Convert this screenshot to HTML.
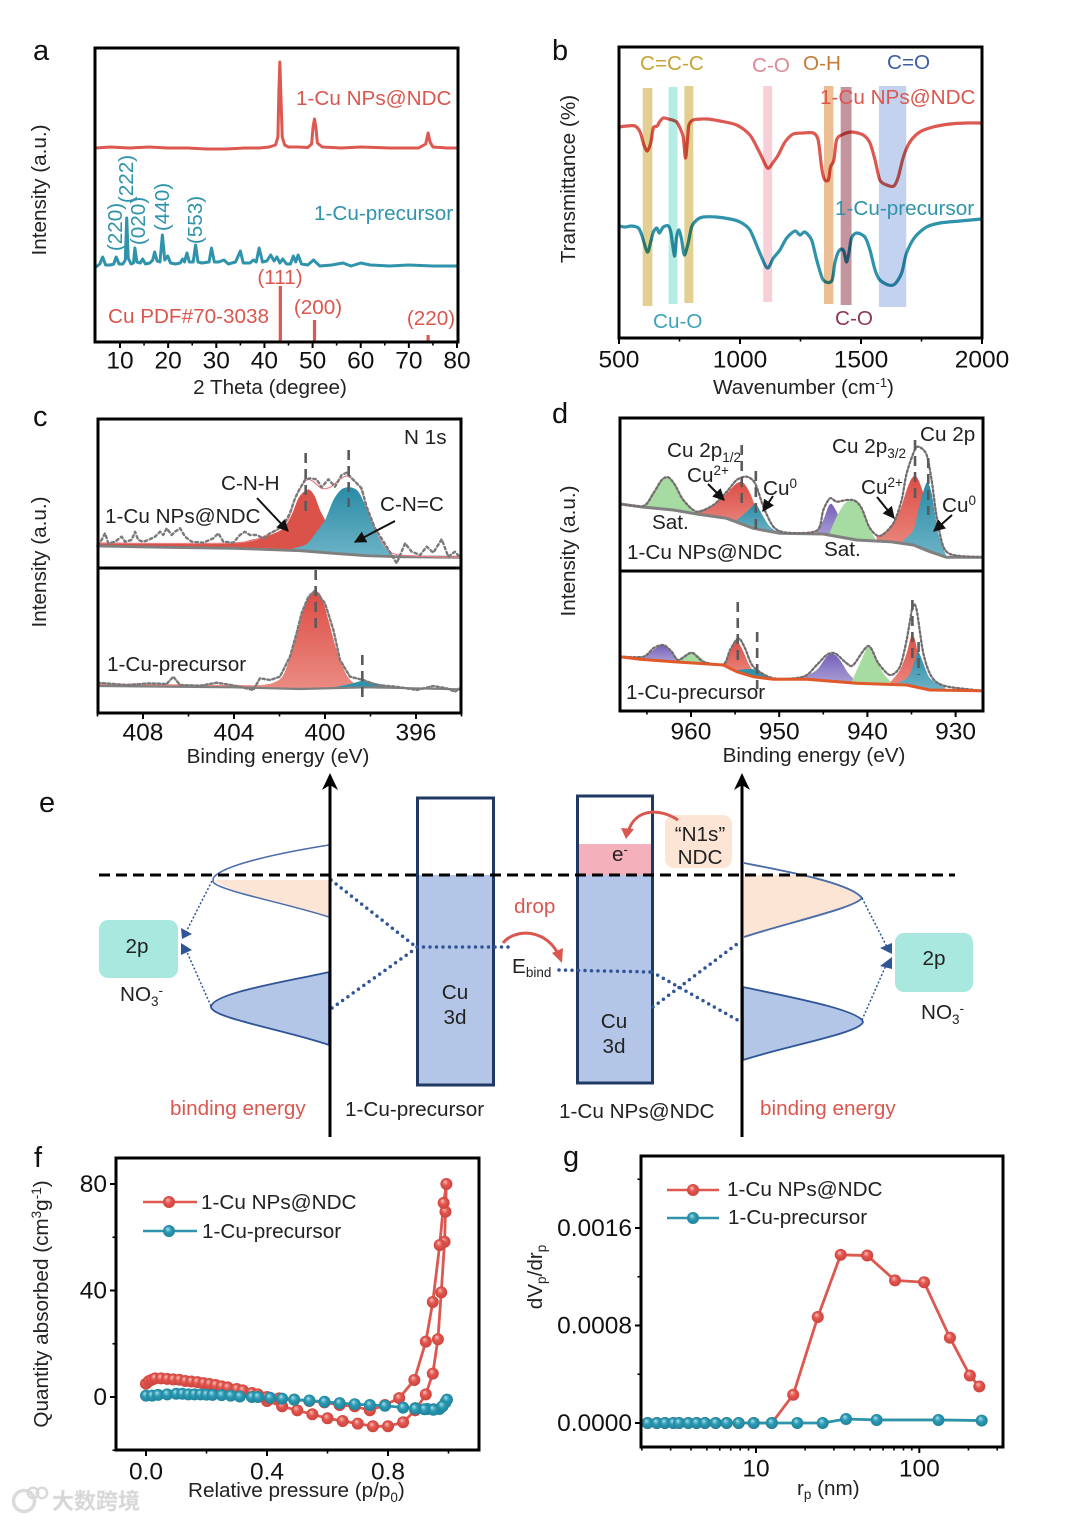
<!DOCTYPE html>
<html lang="en">
<head>
<meta charset="utf-8">
<title>Cu NPs@NDC characterization figure</title>
<style>
html,body{margin:0;padding:0;background:#fff;}
svg{display:block;filter:blur(0.3px);}
text{font-family:"Liberation Sans","Noto Sans CJK SC",sans-serif;font-size:20.7px;fill:#222;}
.tick{font-size:24.5px;fill:#111;text-anchor:middle;}
.letter{font-size:29px;fill:#111;}
.r{fill:#d9574f;}
.t{fill:#2f93ab;}
.blend{mix-blend-mode:multiply;}
</style>
</head>
<body>
<svg id="figure" xmlns="http://www.w3.org/2000/svg" width="1080" height="1520" viewBox="0 0 1080 1520">
<defs>
<linearGradient id="redFade" x1="0" y1="0" x2="0" y2="1"><stop offset="0" stop-color="#dd4d45"/><stop offset="1" stop-color="#ea8b82"/></linearGradient>
<linearGradient id="tealFade" x1="0" y1="0" x2="0" y2="1"><stop offset="0" stop-color="#2a8ca7"/><stop offset="1" stop-color="#6db3c6"/></linearGradient>
<linearGradient id="purpleFade" x1="0" y1="0" x2="0" y2="1"><stop offset="0" stop-color="#7560b8"/><stop offset="1" stop-color="#a99fd6"/></linearGradient>
<radialGradient id="ballRed" cx=".5" cy=".5" r=".55" fx=".38" fy=".3"><stop offset="0" stop-color="#f8c0b9"/><stop offset=".45" stop-color="#e2554e"/><stop offset="1" stop-color="#c9413b"/></radialGradient>
<radialGradient id="ballTeal" cx=".5" cy=".5" r=".55" fx=".38" fy=".3"><stop offset="0" stop-color="#a8e0ec"/><stop offset=".45" stop-color="#2b9ab3"/><stop offset="1" stop-color="#1e7f97"/></radialGradient>
<marker id="arrowBlack" viewBox="0 0 10 10" refX="9" refY="5" markerWidth="6" markerHeight="6" orient="auto"><path d="M0,0 L10,5 L0,10 Z" fill="#111"/></marker>
</defs>

<!-- panel a -->
<g id="a-marks"></g>
<rect x="95" y="48" width="363" height="294" fill="none" stroke="#000" stroke-width="3"/>
<g id="a-axis"></g>
<text class="letter" x="33" y="60">a</text>
<text transform="rotate(-90 46 190)" x="46" y="190" text-anchor="middle">Intensity (a.u.)</text>
<text x="270" y="394" text-anchor="middle">2 Theta (degree)</text>
<text class="r" x="296" y="105">1-Cu NPs@NDC</text>
<text class="t" x="314" y="220">1-Cu-precursor</text>
<text class="r" x="108" y="323">Cu PDF#70-3038</text>
<text class="r" x="280" y="284" text-anchor="middle">(111)</text>
<text class="r" x="318" y="314" text-anchor="middle">(200)</text>
<text class="r" x="431" y="325" text-anchor="middle">(220)</text>
<text class="t" transform="rotate(-90 122 227)" x="122" y="227" text-anchor="middle">(220)</text>
<text class="t" transform="rotate(-90 133 179)" x="133" y="179" text-anchor="middle">(222)</text>
<text class="t" transform="rotate(-90 145 221)" x="145" y="221" text-anchor="middle">(020)</text>
<text class="t" transform="rotate(-90 169 207)" x="169" y="207" text-anchor="middle">(440)</text>
<text class="t" transform="rotate(-90 202 220)" x="202" y="220" text-anchor="middle">(553)</text>

<!-- panel b -->
<g id="b-marks"></g>
<rect x="619" y="47" width="363" height="291" fill="none" stroke="#000" stroke-width="3"/>
<g id="b-axis"></g>
<text class="letter" x="552" y="60">b</text>
<text transform="rotate(-90 575 179)" x="575" y="179" text-anchor="middle">Transmittance (%)</text>
<text x="713" y="394">Wavenumber (cm<tspan dy="-7" font-size="13">-1</tspan><tspan dy="7">)</tspan></text>
<text x="640" y="70" style="fill:#c9a335">C=C-C</text>
<text x="752" y="72" style="fill:#dc8a98">C-O</text>
<text x="803" y="70" style="fill:#c67c35">O-H</text>
<text x="887" y="69" style="fill:#3f5fa5">C=O</text>
<text class="r" x="820" y="104">1-Cu NPs@NDC</text>
<text class="t" x="835" y="215">1-Cu-precursor</text>
<text x="653" y="328" style="fill:#3ea3b8">Cu-O</text>
<text x="835" y="325" style="fill:#8c3a50">C-O</text>

<!-- panel c -->
<g id="c-marks"></g>
<rect x="98" y="419" width="363" height="294" fill="none" stroke="#000" stroke-width="3"/>
<line x1="97" y1="568" x2="461" y2="568" stroke="#000" stroke-width="3"/>
<g id="c-axis"></g>
<text class="letter" x="33" y="426">c</text>
<text transform="rotate(-90 46 562)" x="46" y="562" text-anchor="middle">Intensity (a.u.)</text>
<text x="278" y="763" text-anchor="middle">Binding energy (eV)</text>
<text x="404" y="444">N 1s</text>
<text x="221" y="490">C-N-H</text>
<text x="380" y="511">C-N=C</text>
<text x="105" y="523">1-Cu NPs@NDC</text>
<text x="107" y="671">1-Cu-precursor</text>
<line x1="257" y1="498" x2="288" y2="531" stroke="#111" stroke-width="2" marker-end="url(#arrowBlack)"/>
<line x1="395" y1="521" x2="355" y2="542" stroke="#111" stroke-width="2" marker-end="url(#arrowBlack)"/>

<!-- panel d -->
<g id="d-marks"></g>
<rect x="620" y="418" width="363" height="293" fill="none" stroke="#000" stroke-width="3"/>
<line x1="619" y1="571" x2="983" y2="571" stroke="#000" stroke-width="3"/>
<g id="d-axis"></g>
<text class="letter" x="552" y="423">d</text>
<text transform="rotate(-90 575 551)" x="575" y="551" text-anchor="middle">Intensity (a.u.)</text>
<text x="814" y="762" text-anchor="middle">Binding energy (eV)</text>
<text x="667" y="457">Cu 2p<tspan dy="5" font-size="13.5">1/2</tspan></text>
<text x="687" y="482">Cu<tspan dy="-7" font-size="13.5">2+</tspan></text>
<text x="763" y="495">Cu<tspan dy="-7" font-size="13.5">0</tspan></text>
<text x="652" y="529">Sat.</text>
<text x="627" y="559">1-Cu NPs@NDC</text>
<text x="832" y="453">Cu 2p<tspan dy="5" font-size="13.5">3/2</tspan></text>
<text x="920" y="441">Cu 2p</text>
<text x="861" y="494">Cu<tspan dy="-7" font-size="13.5">2+</tspan></text>
<text x="942" y="512">Cu<tspan dy="-7" font-size="13.5">0</tspan></text>
<text x="824" y="556">Sat.</text>
<text x="626" y="699">1-Cu-precursor</text>
<line x1="708" y1="484" x2="724" y2="500" stroke="#111" stroke-width="2" marker-end="url(#arrowBlack)"/>
<line x1="773" y1="496" x2="763" y2="511" stroke="#111" stroke-width="2" marker-end="url(#arrowBlack)"/>
<line x1="877" y1="497" x2="894" y2="518" stroke="#111" stroke-width="2" marker-end="url(#arrowBlack)"/>
<line x1="952" y1="515" x2="934" y2="531" stroke="#111" stroke-width="2" marker-end="url(#arrowBlack)"/>

<!-- panel e -->
<g>
<text class="letter" x="39" y="812">e</text>
<rect x="418" y="875" width="75" height="209" fill="#b4c6e7"/>
<rect x="578" y="875" width="74" height="207" fill="#b4c6e7"/>
<rect x="578" y="844" width="74" height="31" fill="#f4b0bb"/>
<rect x="417.5" y="798" width="76" height="287" fill="none" stroke="#203864" stroke-width="3"/>
<rect x="577.5" y="796" width="75" height="287" fill="none" stroke="#203864" stroke-width="3"/>
<path d="M214,880 L329,880 L329,917 C285,903 225,892 214,880Z" fill="#fce5d5"/>
<path d="M329,845 C285,852 225,864 214,877 Q212,880 214,883 C225,892 285,903 329,917" fill="none" stroke="#4a6ca8" stroke-width="1.5"/>
<path d="M329,972 C285,982 212,993 211,1007 C212,1018 285,1030 329,1045Z" fill="#b4c6e7" stroke="#2f5597" stroke-width="1.8"/>
<path d="M744,875 L800,875 C830,880 855,888 862,898 C855,908 790,922 744,937Z" fill="#fce5d5"/>
<path d="M744,863 C790,872 850,883 862,898 C855,908 790,922 744,937" fill="none" stroke="#4a6ca8" stroke-width="1.9"/>
<path d="M743,987 C790,997 860,1010 863,1022 C860,1033 790,1045 743,1060Z" fill="#b4c6e7" stroke="#2f5597" stroke-width="1.8"/>
<g fill="none" stroke="#2f5597" stroke-width="3.5" stroke-linecap="round" stroke-dasharray="0 6.5">
<line x1="331" y1="880" x2="415" y2="946"/>
<line x1="332" y1="1008" x2="415" y2="949"/>
<line x1="417" y1="947" x2="512" y2="947"/>
<line x1="559" y1="970" x2="652" y2="972"/>
<line x1="652" y1="972" x2="741" y2="1022"/>
<line x1="653" y1="1007" x2="741" y2="941"/>
</g>
<g fill="none" stroke="#2f5597" stroke-width="1.5" stroke-dasharray="2 2">
<line x1="212" y1="881" x2="186" y2="932"/>
<line x1="211" y1="1006" x2="186" y2="950"/>
<line x1="862" y1="898" x2="887" y2="947"/>
<line x1="862" y1="1020" x2="887" y2="963"/>
</g>
<polygon points="181,928 192,934 182,939" fill="#2f5597"/>
<polygon points="181,943 192,950 181,955" fill="#2f5597"/>
<polygon points="892,943 892,954 880,948" fill="#2f5597"/>
<polygon points="892,957 892,969 880,966" fill="#2f5597"/>
<line x1="99" y1="875" x2="955" y2="875" stroke="#000" stroke-width="3" stroke-dasharray="11 6"/>
<line x1="330" y1="1137" x2="330" y2="780" stroke="#000" stroke-width="3"/>
<polygon points="330,773 338,790 330,785 322,790" fill="#000"/>
<line x1="742" y1="1137" x2="742" y2="780" stroke="#000" stroke-width="3"/>
<polygon points="742,773 750,790 742,785 734,790" fill="#000"/>
<rect x="99" y="920" width="79" height="58" rx="9" fill="#a8e8df"/>
<rect x="895" y="933" width="78" height="59" rx="9" fill="#a8e8df"/>
<rect x="665" y="815" width="67" height="53" rx="9" fill="#fce5d5"/>
<path d="M503,943 C515,928 548,928 560,958" fill="none" stroke="#d9574f" stroke-width="3"/>
<polygon points="562,963 552,953 563,948" fill="#d9574f"/>
<path d="M678,820 C660,808 635,808 628,832" fill="none" stroke="#d9574f" stroke-width="3"/>
<polygon points="626,839 621,828 634,829" fill="#d9574f"/>
<text x="137" y="953" text-anchor="middle">2p</text>
<text x="934" y="965" text-anchor="middle">2p</text>
<text x="120" y="1001">NO<tspan dy="5" font-size="13.5">3</tspan><tspan dy="-11" font-size="13.5">-</tspan></text>
<text x="921" y="1019">NO<tspan dy="5" font-size="13.5">3</tspan><tspan dy="-11" font-size="13.5">-</tspan></text>
<text x="455" y="999" text-anchor="middle">Cu</text>
<text x="455" y="1024" text-anchor="middle">3d</text>
<text x="614" y="1028" text-anchor="middle">Cu</text>
<text x="614" y="1053" text-anchor="middle">3d</text>
<text x="612" y="861">e<tspan dy="-7" font-size="13">-</tspan></text>
<text x="700" y="841" text-anchor="middle">“N1s”</text>
<text x="700" y="864" text-anchor="middle">NDC</text>
<text class="r" x="514" y="913">drop</text>
<text x="512" y="973">E<tspan dy="4" font-size="13.5">bind</tspan></text>
<text class="r" x="170" y="1115">binding energy</text>
<text class="r" x="760" y="1115">binding energy</text>
<text x="345" y="1116">1-Cu-precursor</text>
<text x="559" y="1118">1-Cu NPs@NDC</text>
</g>

<!-- panel f -->
<g id="f-marks"></g>
<rect x="116" y="1158" width="363" height="292" fill="none" stroke="#000" stroke-width="3"/>
<g id="f-axis"></g>
<text class="letter" x="34" y="1167">f</text>
<text transform="rotate(-90 48 1304)" x="48" y="1304" text-anchor="middle">Quantity absorbed (cm<tspan dy="-7" font-size="13.5">3</tspan><tspan dy="7">g</tspan><tspan dy="-7" font-size="13.5">-1</tspan><tspan dy="7">)</tspan></text>
<text x="188" y="1497">Relative pressure (p/p<tspan dy="5" font-size="13.5">0</tspan><tspan dy="-5">)</tspan></text>
<text x="201" y="1209">1-Cu NPs@NDC</text>
<text x="202" y="1238">1-Cu-precursor</text>

<!-- panel g -->
<g id="g-marks"></g>
<rect x="641" y="1156" width="362" height="291" fill="none" stroke="#000" stroke-width="3"/>
<g id="g-axis"></g>
<text class="letter" x="563" y="1166">g</text>
<text transform="rotate(-90 542 1277)" x="542" y="1277" text-anchor="middle">dV<tspan dy="4" font-size="13.5">p</tspan><tspan dy="-4">/dr</tspan><tspan dy="4" font-size="13.5">p</tspan></text>
<text x="797" y="1495">r<tspan dy="4" font-size="13.5">p</tspan><tspan dy="-4"> (nm)</tspan></text>
<text x="727" y="1196">1-Cu NPs@NDC</text>
<text x="728" y="1224">1-Cu-precursor</text>

<!-- watermark -->
<g opacity=".85">
<circle cx="24" cy="1501" r="10.5" fill="none" stroke="#d4d4d4" stroke-width="3.5"/>
<circle cx="33" cy="1493" r="5.2" fill="none" stroke="#d4d4d4" stroke-width="2.5"/>
<circle cx="42" cy="1493" r="5.2" fill="none" stroke="#d4d4d4" stroke-width="2.5"/>
<text x="52" y="1509" style="font-size:22px;font-weight:bold;fill:#cfcfcf;stroke:#e6e6e6;stroke-width:.5">大数跨境</text>
</g>

<script>
/* ---------- Panel a: XRD (2-theta in degrees, intensity in a.u.) ---------- */
const aTickMajor = [10, 20, 30, 40, 50, 60, 70, 80];
const aTickMinor = [15, 25, 35, 45, 55, 65, 75];
const aRedTrace = [[5,194],[8,195],[12,194],[16,195],[20,194],[24,194],[28,193],[32,193],[36,194],[39,194],[41,195],[42.3,197],[42.8,205],[43,250],[43.2,280],[43.4,250],[43.7,205],[44.2,197],[45,195],[47,195],[49,194.5],[49.8,198],[50.1,215],[50.4,223],[50.7,214],[51,199],[52,195],[56,194],[60,195],[66,194],[72,194],[73.5,198],[74,209],[74.4,200],[75,195],[78,194],[80,194]];
const aTealTrace = [[5,75],[5.8,78],[6.4,85],[7,77],[8,77],[8.7,78],[9.2,85],[9.8,78],[10.6,78],[11.1,82],[11.4,124],[11.7,84],[12.3,78],[12.8,79],[13.1,94],[13.5,80],[14.2,79],[14.7,83],[15.3,78],[16.2,79],[16.8,82],[17.2,90],[17.7,81],[18.3,80],[18.8,107],[19.3,82],[19.9,86],[20.5,79],[21.5,78],[22.5,79],[23,83],[23.4,80],[23.9,89],[24.4,80],[25.2,80],[25.7,97],[26.2,80],[27,79],[28.5,80],[29,94],[29.6,80],[30.5,80],[31.6,82],[32.5,78],[34,80],[35,91],[35.6,79],[37,79],[37.7,82],[38.3,80],[38.9,94],[39.6,80],[40.5,81],[41.3,87],[42,81],[42.6,85],[43.2,79],[43.8,83],[44.6,78],[45.4,78],[46,86],[46.5,80],[47,87],[47.7,78],[49,77],[50.2,82],[51.5,76],[54,77],[56.3,79],[58,76],[60,79],[62,77],[66,76],[70,77],[75,76],[80,76]];
const aStickTheta = [43.3, 50.4, 74];
const aStickHeight = [56, 22, 7];

/* ---------- Panel b: FTIR (wavenumber, transmittance in a.u.) ---------- */
const bTickMajor = [500, 1000, 1500, 2000];
const bTickMinor = [750, 1250, 1750];
const bRedTrace = [[500,211],[532,212],[566,212],[587,206],[603,193],[617,187],[631,195],[642,210],[658,212],[667,216],[683,220],[704,219],[738,216],[759,206],[766,200],[775,180],[784,201],[789,213],[807,218],[862,219],[917,217],[986,213],[1041,203],[1082,185],[1114,170],[1138,176],[1158,183],[1186,196],[1220,204],[1261,205],[1303,205],[1323,198],[1337,171],[1348,159],[1365,158],[1374,171],[1388,178],[1399,198],[1420,203],[1461,206],[1509,203],[1537,195],[1558,178],[1578,158],[1606,153],[1636,152],[1654,161],[1675,181],[1702,196],[1743,206],[1798,211],[1867,214],[1936,215],[1998,215]];
const bTealTrace = [[500,112],[525,111],[552,112],[580,110],[594,103],[617,86],[631,96],[642,106],[656,110],[667,105],[683,111],[704,112],[715,105],[729,82],[738,101],[748,108],[759,98],[770,83],[786,95],[800,111],[821,118],[848,121],[903,121],[959,119],[1000,116],[1041,108],[1082,85],[1113,70],[1138,80],[1165,88],[1193,100],[1227,107],[1248,103],[1268,106],[1296,98],[1317,78],[1344,58],[1379,57],[1392,75],[1406,86],[1420,89],[1430,86],[1440,76],[1450,85],[1461,100],[1482,105],[1516,101],[1537,88],[1558,68],[1578,58],[1613,53],[1640,54],[1668,65],[1688,85],[1723,101],[1771,111],[1826,115],[1909,117],[1998,119]];
const bBandLow = [598, 705, 770, 1096, 1347, 1416, 1574];
const bBandHigh = [638, 742, 807, 1133, 1386, 1461, 1687];
const bBandTop = [250, 251, 252, 252, 252, 251, 252];
const bBandBottom = [32, 34, 35, 36, 34, 33, 31];

/* ---------- Panel c: N 1s XPS (binding energy, counts in a.u.) ---------- */
const cTickMajor = [408, 404, 400, 396];
const cTickMinor = [410, 406, 402, 398, 394];
const cTopBase = [[410,167],[407,165.7],[404,164.7],[401.1,162.3],[399.63,159.7],[398.17,157.3],[396.85,156.3],[394.07,155.7]];
const cTopRed = [[409.99,170.3],[406.96,169.7],[404.03,170.3],[403.15,173.7],[402.42,178],[401.83,184.7],[401.47,198],[401.17,214.7],[400.88,222.3],[400.66,223],[400.44,216.3],[400.22,203],[400,193],[399.78,179.7],[399.49,166.3],[399.19,160.3]];
const cTopTeal = [[401.39,164.7],[400.81,169],[400.37,181.3],[400,193],[399.63,213],[399.27,223.7],[398.9,225.7],[398.53,221.3],[398.17,204.7],[397.8,183],[397.44,168],[397.07,159],[396.85,156.3]];
const cTopFit = [[410,170],[404.03,170],[402.56,178],[401.68,191.3],[401.25,218],[400.81,233],[400.51,231.3],[400.15,224.7],[399.78,225.7],[399.34,233.7],[399.05,237],[398.75,233],[398.46,225.7],[398.17,206.3],[397.73,181.3],[397.29,164.7],[396.7,158],[394.07,155.7]];
const cTopRaw = [[409.99,168],[409.82,173],[409.67,179.7],[409.52,169.7],[409.23,171.3],[408.94,176.3],[408.79,171.3],[408.5,173],[408.35,181.3],[408.21,173],[407.99,171.3],[407.77,173],[407.47,176.3],[407.25,181.3],[407.11,178],[406.96,184.7],[406.74,178],[406.59,181.3],[406.37,184.7],[406.15,176.3],[405.86,171.3],[405.35,170.3],[404.91,174.7],[404.69,179.7],[404.47,171.3],[404.03,170.3],[403.74,178],[403.52,181.3],[403.3,178],[403,178],[402.71,174.7],[402.42,179.7],[402.12,183],[401.83,188],[401.54,199.7],[401.32,214.7],[401.1,224.7],[400.88,233],[400.66,234.7],[400.37,233.7],[400.15,225.7],[399.85,233.7],[399.56,226.3],[399.27,238],[399.05,240.3],[398.75,233],[398.39,224.7],[398.17,206.3],[397.8,184.7],[397.29,166.3],[396.85,149.7],[396.48,169.7],[396.19,161.3],[395.82,158],[395.53,166.3],[395.24,160.3],[394.87,173.7],[394.58,156.3],[394.29,161.3],[394.07,155.7]];
const cLowBase = [[409.99,27],[404.03,25.7],[401.1,24],[398.17,25.7],[394.07,23.7]];
const cLowRed = [[409.99,29.7],[404.03,28],[402.86,28],[402.27,30.3],[401.83,38],[401.39,66.3],[401.03,96.3],[400.73,116.3],[400.44,122.3],[400.15,116.3],[399.85,93],[399.49,63],[399.05,38],[398.68,29],[398.39,26.3]];
const cLowTeal = [[399.63,25.7],[398.9,29],[398.32,32.3],[397.73,29.7],[397,25.7],[395.97,24.3]];
const cLowRaw = [[409.99,30.3],[408.72,28],[407.69,29.7],[406.96,29],[406.67,36.3],[406.37,28],[405.49,27.3],[404.76,30.3],[404.03,27.7],[403.15,23],[402.86,34.7],[402.42,33],[401.98,36.3],[401.54,56.3],[401.25,79.7],[401.03,99.7],[400.73,116.3],[400.44,122.3],[400,109.7],[399.63,83],[399.34,53],[398.9,36.3],[398.32,33],[397.73,28],[396.85,26.3],[395.97,23],[395.24,27],[394.65,24.7],[394.29,21.3],[394.07,24.7]];
const cDashEnergy = [400.85, 398.96, 400.41, 398.36];
const cDashHigh = [260, 263, 143, 58];
const cDashLow = [200, 206, 83, 10];

/* ---------- Panel d: Cu 2p XPS (binding energy, counts in a.u.) ---------- */
const dTickMajor = [960, 950, 940, 930];
const dTickMinor = [965, 955, 945, 935];
const dTopBase = [[968.05,207],[965.78,204.3],[962,201],[959.35,197],[955.95,192.7],[952.93,182.7],[949.91,177.7],[945,177],[941.22,171],[937.44,169.3],[934.79,166],[932.9,159.3],[931.02,153.7],[927.05,153.7]];
const dTopGreenA = [[965.4,205],[964.27,217.7],[963.32,231],[962.57,233.7],[961.81,226],[960.87,211],[959.54,197]];
const dTopRedA = [[959.54,199.3],[957.47,206],[955.95,217.7],[954.82,227.7],[954.06,228.3],[953.3,217.7],[952.55,201],[951.79,187.7]];
const dTopTealA = [[954.82,191],[953.68,199.3],[952.93,206],[952.55,206],[951.79,194.3],[951.04,184.3],[949.91,177.7]];
const dTopPurple = [[945.75,180.3],[945,191],[944.43,204.3],[944.05,207],[943.49,199.3],[942.92,187.7]];
const dTopGreenB = [[944.24,179.3],[943.49,194.3],[942.54,207.7],[941.6,211],[940.84,206],[940.08,187.7],[939.14,172.7]];
const dTopRedB = [[938.95,174.3],[937.44,182.7],[936.31,201],[935.55,221],[934.98,232.7],[934.42,234.3],[933.66,217.7],[932.9,184.3],[932.53,167.7]];
const dTopTealB = [[935.93,171],[934.79,181],[934.04,207.7],[933.28,228.3],[932.72,217.7],[931.96,177.7],[931.02,154.3]];
const dTopFit = [[968.05,207],[965.4,205],[964.27,217.7],[963.32,231],[962.57,233.7],[961.81,226],[960.87,211],[959.35,199.3],[957.47,206],[955.95,219.3],[954.82,231],[953.68,234.3],[952.74,227.7],[951.79,204.3],[950.66,184.3],[949.15,178.3],[945.75,180.3],[945,201],[944.24,212.7],[943.49,209.3],[942.35,211],[941.41,210.3],[940.65,202.7],[939.71,182.7],[938.57,175],[937.06,187.7],[936.12,211],[935.55,237.7],[934.6,261.7],[934.04,263.7],[933.28,256],[932.72,231],[932.15,194.3],[931.39,164.3],[930.26,156],[927.05,153.7]];
const dLowBase = [[968.05,54.3],[965.78,51.7],[962,49.3],[956.33,46],[954.82,39.3],[952.93,34.3],[950.66,31.7],[946.88,31.7],[941.22,27.7],[935.55,26],[932.9,21],[927.05,20.3]];
const dLowPurpleA = [[965.4,52.7],[964.27,61],[963.13,66],[962.19,59.3],[961.24,49.3]];
const dLowGreenA = [[961.62,49.3],[960.87,55],[959.92,58.3],[958.98,54.3],[958.22,47]];
const dLowRedA = [[956.33,46],[955.57,59.3],[954.82,69.3],[954.25,62.7],[953.49,47.7],[952.93,39.3]];
const dLowTealA = [[954.82,41],[952.93,41.7],[951.04,33.7]];
const dLowPurpleB = [[947.26,33.7],[945.75,41],[944.62,54.3],[943.86,57],[943.11,51],[942.16,37.7],[941.22,29.3]];
const dLowGreenB = [[941.78,29.3],[940.84,47.7],[939.9,64.3],[939.14,52.7],[938.19,37.7],[937.25,28.3]];
const dLowRedB = [[937.44,28.3],[936.31,41],[935.55,57.7],[934.98,76],[934.6,71],[934.04,47.7],[933.28,31]];
const dLowTealB = [[936.69,27.7],[935.36,34.3],[934.6,51],[934.23,59.3],[933.66,47.7],[932.9,32.7],[931.21,23.7]];
const dLowFit = [[968.05,54.3],[965.4,54.3],[964.27,62.7],[963.13,66],[962.19,59.3],[961.43,51],[959.92,58.3],[958.6,49.3],[956.33,46.7],[955.57,61],[954.63,72.7],[953.87,62.7],[952.93,44.3],[950.66,32.7],[947.26,34.3],[945.75,46],[944.62,56],[943.67,57.7],[942.35,47.7],[941.6,46],[939.9,65],[938.76,47.7],[937.44,36],[936.31,44.3],[935.55,71],[934.87,104.3],[934.42,101],[933.66,57.7],[932.72,34.3],[931.21,25],[927.05,20.3]];
const dDashEnergy = [954.25, 952.65, 934.6, 933.1, 954.7, 952.5, 934.9, 934.2];
const dDashHigh = [266, 240, 271, 253, 109, 79, 111, 69];
const dDashLow = [206, 181, 211, 196, 51, 22, 53, 36];

/* ---------- Panel f: N2 isotherm (p/p0, quantity adsorbed) ---------- */
const fXTickMajor = [0, 0.4, 0.8];
const fXTickMinor = [0.2, 0.6, 1.0];
const fYTickMajor = [80, 40, 0];
const fYTickMinor = [60, 20, -20];
const fRedP = [0,0.01,0.02,0.03,0.05,0.07,0.09,0.11,0.13,0.15,0.17,0.19,0.21,0.23,0.25,0.27,0.3,0.32,0.35,0.37,0.4,0.45,0.5,0.55,0.6,0.65,0.7,0.75,0.8,0.85,0.89,0.925,0.948,0.965,0.976,0.987,0.99,0.993,0.984,0.971,0.948,0.925,0.887,0.837,0.79,0.74,0.69,0.64,0.59,0.54,0.49,0.44,0.4];
const fRedQ = [5,6,6.5,7,7,6.8,6.6,6.5,6,5.8,5.6,5.2,4.9,4.5,4,3.6,3,2.5,1.5,1,-1.5,-3.5,-5,-6.5,-8,-9,-10,-11,-11,-9.5,-5,1,8.8,21.7,39.3,58.3,69.6,80,72.9,57.1,35.7,20.8,6.4,-0.4,-3,-5,-3.5,-3,-2,-1.5,-1,-0.5,0];
const fTealP = [0,0.02,0.04,0.07,0.1,0.12,0.14,0.16,0.18,0.2,0.22,0.25,0.28,0.31,0.35,0.37,0.41,0.45,0.49,0.54,0.59,0.64,0.69,0.74,0.79,0.85,0.89,0.93,0.95,0.97,0.98,0.99,0.995,0.98,0.95,0.92,0.89];
const fTealQ = [0.5,0.5,0.8,1,1.2,1.2,1,1,1,0.9,0.8,0.7,0.5,0.2,0,0,-0.3,-0.6,-1,-1.3,-1.8,-2.3,-2.7,-3,-3.3,-4,-4.2,-4.5,-4.6,-4.5,-3.5,-2,-1,-3.5,-4.8,-4.6,-4.4];

/* ---------- Panel g: pore-size distribution (rp in nm, dVp/drp) ---------- */
const gXTickMajor = [10, 100];
const gXTickMinor = [2,3,4,5,6,7,8,9,20,30,40,50,60,70,80,90,200,300];
const gYTickMajor = [0.0016, 0.0008, 0];
const gYTickMinor = [0.002, 0.0012, 0.0004];
const gRedR = [2.17,2.47,2.77,3.12,3.38,3.85,4.33,4.87,5.66,6.61,7.83,9.68,12.5,16.9,23.9,33,48,71,107,154,204,233];
const gRedV = [0,0,0,0,0,0,0,0,0,0,0,0,0,0.000232,0.00087,0.00138,0.001374,0.00117,0.001155,0.0007,0.00039,0.0003];
const gTealR = [2.17,2.47,2.77,3.12,3.38,3.85,4.33,4.87,5.66,6.61,7.83,9.68,12.5,17.9,25.6,35.6,54.8,131,241];
const gTealV = [0,0,0,0,0,0,0,0,0,0,0,0,0,0,0,0.000033,0.000025,0.000025,0.00002];

/* ---------- helpers ---------- */
const SVGNS = 'http://www.w3.org/2000/svg';
const RED = '#dc5850';
const TEAL = '#2f93ab';
const BALL_R = 6;

function mk(tag, attrs, parent, name) {
  const el = document.createElementNS(SVGNS, tag);
  for (const k in attrs) el.setAttribute(k, attrs[k]);
  
  
  parent.appendChild(el);
  return el;
}
function linear(d0, d1, r0, r1) { return v => r0 + (v - d0) * (r1 - r0) / (d1 - d0); }
function logScale(d0, d1, r0, r1) { return v => r0 + (Math.log10(v) - Math.log10(d0)) * (r1 - r0) / (Math.log10(d1) - Math.log10(d0)); }

function straight(pts) { return pts.map((p, i) => (i ? 'L' : 'M') + p[0].toFixed(2) + ',' + p[1].toFixed(2)).join(' '); }
function smooth(pts) {
  let d = 'M' + pts[0][0].toFixed(2) + ',' + pts[0][1].toFixed(2);
  for (let i = 0; i < pts.length - 1; i++) {
    const p0 = pts[Math.max(i - 1, 0)], p1 = pts[i], p2 = pts[i + 1], p3 = pts[Math.min(i + 2, pts.length - 1)];
    const k = 0.14;
    d += ' C' + (p1[0] + (p2[0] - p0[0]) * k).toFixed(2) + ',' + (p1[1] + (p2[1] - p0[1]) * k).toFixed(2) +
         ' ' + (p2[0] - (p3[0] - p1[0]) * k).toFixed(2) + ',' + (p2[1] - (p3[1] - p1[1]) * k).toFixed(2) +
         ' ' + p2[0].toFixed(2) + ',' + p2[1].toFixed(2);
  }
  return d;
}
function project(series, sx, sy) { return series.map(p => [sx(p[0]), sy(p[1])]); }
function baseAt(base, e) {
  for (let i = 0; i < base.length - 1; i++) {
    const a = base[i], b = base[i + 1];
    if (e <= a[0] && e >= b[0]) return a[1] + (b[1] - a[1]) * (a[0] - e) / (a[0] - b[0]);
  }
  return base[base.length - 1][1];
}
function peakPath(top, base, sx, sy) {
  const start = top[0][0], end = top[top.length - 1][0];
  const lower = [[end, baseAt(base, end)]];
  base.slice().reverse().forEach(p => { if (p[0] > end && p[0] < start) lower.push(p); });
  lower.push([start, baseAt(base, start)]);
  return smooth(project(top, sx, sy)) + ' L' + straight(project(lower, sx, sy)).slice(1) + ' Z';
}
function xAxis(g, sx, major, minor, yFrame, yLabel, fmt, prefix) {
  major.forEach(v => {
    mk('line', {x1: sx(v), x2: sx(v), y1: yFrame, y2: yFrame + 6, stroke: '#000', 'stroke-width': 2}, g, prefix + '-x-tick');
    const t = mk('text', {x: sx(v), y: yLabel, class: 'tick'}, g, prefix + '-x-tick-label');
    t.textContent = fmt ? fmt(v) : String(v);
  });
  minor.forEach(v => {
    mk('line', {x1: sx(v), x2: sx(v), y1: yFrame, y2: yFrame + 3.5, stroke: '#000', 'stroke-width': 1.6}, g, prefix + '-x-minor-tick');
  });
}
function yAxis(g, sy, major, minor, xFrame, fmt, prefix) {
  major.forEach(v => {
    mk('line', {x1: xFrame - 6, x2: xFrame, y1: sy(v), y2: sy(v), stroke: '#000', 'stroke-width': 2}, g, prefix + '-y-tick');
    const t = mk('text', {x: xFrame - 9, y: sy(v) + 8, class: 'tick', style: 'text-anchor:end'}, g, prefix + '-y-tick-label');
    t.textContent = fmt ? fmt(v) : String(v);
  });
  minor.forEach(v => {
    mk('line', {x1: xFrame - 3.5, x2: xFrame, y1: sy(v), y2: sy(v), stroke: '#000', 'stroke-width': 1.6}, g, prefix + '-y-minor-tick');
  });
}
function byId(id) { return document.getElementById(id); }
function curve(g, d, color, width, name, extra) {
  return mk('path', Object.assign({d: d, fill: 'none', stroke: color, 'stroke-width': width, 'stroke-linejoin': 'round', 'stroke-linecap': 'round'}, extra || {}), g, name);
}
function balls(g, xs, ys, sx, sy, r, fill, name) {
  xs.forEach((x, i) => mk('circle', {cx: sx(x), cy: sy(ys[i]), r: r, fill: fill}, g, name));
}
function dashes(g, energies, highs, lows, sx, sy, name) {
  energies.forEach((e, i) => {
    mk('line', {x1: sx(e), x2: sx(e), y1: sy(highs[i]), y2: sy(lows[i]), stroke: '#5a5a5a', 'stroke-width': 2.6, 'stroke-dasharray': '10 6'}, g, name);
  });
}

/* ---------- panel a ---------- */
(function () {
  const g = byId('a-marks');
  const x = linear(10, 80, 120, 457), y = linear(0, 294, 342, 48);
  curve(g, straight(project(aRedTrace, x, y)), RED, 3, 'xrd-trace-nps');
  curve(g, straight(project(aTealTrace, x, y)), TEAL, 3, 'xrd-trace-precursor');
  aStickTheta.forEach((t, i) => {
    mk('line', {x1: x(t), x2: x(t), y1: y(aStickHeight[i]), y2: y(0), stroke: RED, 'stroke-width': 3.2}, g, 'cu-reference-stick');
  });
  xAxis(byId('a-axis'), x, aTickMajor, aTickMinor, 342, 368.6, null, 'panel-a');
})();

/* ---------- panel b ---------- */
(function () {
  const g = byId('b-marks');
  const x = linear(500, 2000, 619, 982), y = linear(0, 291, 338, 47);
  const bandColors = ['#e3cf92', '#b5ece4', '#e3cf92', '#f9cfd7', '#ebbe93', '#c4949f', '#c3d2ef'];
  curve(g, smooth(project(bRedTrace, x, y)), RED, 3.2, 'ftir-trace-nps');
  curve(g, smooth(project(bTealTrace, x, y)), TEAL, 3.2, 'ftir-trace-precursor');
  bBandLow.forEach((lo, i) => {
    mk('rect', {x: x(lo), width: x(bBandHigh[i]) - x(lo), y: y(bBandTop[i]), height: y(bBandBottom[i]) - y(bBandTop[i]), fill: bandColors[i], class: 'blend'}, g, 'ftir-band');
  });
  xAxis(byId('b-axis'), x, bTickMajor, bTickMinor, 338, 367.6, null, 'panel-b');
})();

/* ---------- panel c ---------- */
(function () {
  const g = byId('c-marks');
  const x = linear(408, 396, 143, 416), y = linear(0, 294, 713, 419);
  mk('path', {d: peakPath(cTopRed, cTopBase, x, y), fill: '#db5249'}, g, 'peak-cnh');
  mk('path', {d: peakPath(cTopTeal, cTopBase, x, y), fill: 'url(#tealFade)'}, g, 'peak-cnc');
  curve(g, straight(project(cTopBase, x, y)), '#7f7f7f', 2.8, 'background-nps');
  curve(g, smooth(project(cTopFit, x, y)), '#e8808a', 1.2, 'fit-nps');
  curve(g, straight(project(cTopRaw, x, y)), '#7a7a7a', 2.4, 'raw-nps', {'stroke-dasharray': '2.5 3'});
  mk('path', {d: peakPath(cLowRed, cLowBase, x, y), fill: 'url(#redFade)'}, g, 'peak-precursor-main');
  mk('path', {d: peakPath(cLowTeal, cLowBase, x, y), fill: TEAL}, g, 'peak-precursor-minor');
  curve(g, straight(project(cLowBase, x, y)), '#7f7f7f', 2.2, 'background-precursor');
  curve(g, straight(project(cLowRaw, x, y)), '#7a7a7a', 2.4, 'raw-precursor', {'stroke-dasharray': '2.5 2.5'});
  dashes(g, cDashEnergy, cDashHigh, cDashLow, x, y, 'peak-position-marker');
  xAxis(byId('c-axis'), x, cTickMajor, cTickMinor, 713, 740.6, null, 'panel-c');
})();

/* ---------- panel d ---------- */
(function () {
  const g = byId('d-marks');
  const x = linear(960, 930, 691, 955.6), y = linear(0, 293, 711, 418);
  const GREEN = '#a6dba2';
  mk('path', {d: peakPath(dTopGreenA, dTopBase, x, y), fill: GREEN}, g, 'peak-sat-a');
  mk('path', {d: peakPath(dTopRedA, dTopBase, x, y), fill: 'url(#redFade)'}, g, 'peak-cu2-12');
  mk('path', {d: peakPath(dTopTealA, dTopBase, x, y), fill: 'url(#tealFade)'}, g, 'peak-cu0-12');
  mk('path', {d: peakPath(dTopPurple, dTopBase, x, y), fill: 'url(#purpleFade)'}, g, 'peak-sat-purple');
  mk('path', {d: peakPath(dTopGreenB, dTopBase, x, y), fill: GREEN}, g, 'peak-sat-b');
  mk('path', {d: peakPath(dTopRedB, dTopBase, x, y), fill: 'url(#redFade)'}, g, 'peak-cu2-32');
  mk('path', {d: peakPath(dTopTealB, dTopBase, x, y), fill: 'url(#tealFade)'}, g, 'peak-cu0-32');
  curve(g, straight(project(dTopBase, x, y)), '#808080', 3, 'background-nps');
  curve(g, smooth(project(dTopFit, x, y)), '#e8808a', 1.4, 'fit-nps');
  curve(g, smooth(project(dTopFit, x, y)), '#6f6f6f', 2.3, 'raw-nps', {'stroke-dasharray': '2 2.5'});
  mk('path', {d: peakPath(dLowPurpleA, dLowBase, x, y), fill: 'url(#purpleFade)'}, g, 'precursor-peak-purple-a');
  mk('path', {d: peakPath(dLowGreenA, dLowBase, x, y), fill: GREEN}, g, 'precursor-peak-green-a');
  mk('path', {d: peakPath(dLowRedA, dLowBase, x, y), fill: 'url(#redFade)'}, g, 'precursor-peak-red-a');
  mk('path', {d: peakPath(dLowTealA, dLowBase, x, y), fill: TEAL}, g, 'precursor-peak-teal-a');
  mk('path', {d: peakPath(dLowPurpleB, dLowBase, x, y), fill: 'url(#purpleFade)'}, g, 'precursor-peak-purple-b');
  mk('path', {d: peakPath(dLowGreenB, dLowBase, x, y), fill: GREEN}, g, 'precursor-peak-green-b');
  mk('path', {d: peakPath(dLowRedB, dLowBase, x, y), fill: 'url(#redFade)'}, g, 'precursor-peak-red-b');
  mk('path', {d: peakPath(dLowTealB, dLowBase, x, y), fill: 'url(#tealFade)'}, g, 'precursor-peak-teal-b');
  curve(g, smooth(project(dLowFit, x, y)), '#e8808a', 1.4, 'fit-precursor');
  curve(g, smooth(project(dLowFit, x, y)), '#6f6f6f', 2.3, 'raw-precursor', {'stroke-dasharray': '2 2.5'});
  curve(g, straight(project(dLowBase, x, y)), '#e0592a', 3, 'background-precursor');
  dashes(g, dDashEnergy, dDashHigh, dDashLow, x, y, 'peak-position-marker');
  xAxis(byId('d-axis'), x, dTickMajor, dTickMinor, 711, 739.6, null, 'panel-d');
})();

/* ---------- panel f ---------- */
(function () {
  const g = byId('f-marks');
  const x = linear(0, 0.8, 146, 388), y = linear(0, 80, 1397, 1184);
  const rp = fRedP.map((p, i) => [x(p), y(fRedQ[i])]);
  const tp = fTealP.map((p, i) => [x(p), y(fTealQ[i])]);
  curve(g, straight(rp), RED, 2.8, 'isotherm-line-nps');
  balls(g, fRedP, fRedQ, x, y, BALL_R, 'url(#ballRed)', 'isotherm-point-nps');
  curve(g, straight(tp), TEAL, 2.8, 'isotherm-line-precursor');
  balls(g, fTealP, fTealQ, x, y, BALL_R, 'url(#ballTeal)', 'isotherm-point-precursor');
  mk('line', {x1: 143, x2: 197, y1: 1202, y2: 1202, stroke: RED, 'stroke-width': 2.6}, g, 'legend-line-nps');
  mk('circle', {cx: 169, cy: 1202, r: BALL_R, fill: 'url(#ballRed)'}, g, 'legend-marker-nps');
  mk('line', {x1: 143, x2: 197, y1: 1231, y2: 1231, stroke: TEAL, 'stroke-width': 2.6}, g, 'legend-line-precursor');
  mk('circle', {cx: 169, cy: 1231, r: BALL_R, fill: 'url(#ballTeal)'}, g, 'legend-marker-precursor');
  const ax = byId('f-axis');
  xAxis(ax, x, fXTickMajor, fXTickMinor, 1450, 1479.6, v => v.toFixed(1), 'panel-f');
  yAxis(ax, y, fYTickMajor, fYTickMinor, 116, null, 'panel-f');
})();

/* ---------- panel g ---------- */
(function () {
  const g = byId('g-marks');
  const x = logScale(10, 100, 756, 919.3), y = linear(0, 0.0016, 1423, 1228);
  const rp = gRedR.map((r, i) => [x(r), y(gRedV[i])]);
  const tp = gTealR.map((r, i) => [x(r), y(gTealV[i])]);
  curve(g, straight(rp), RED, 2.8, 'pore-line-nps');
  balls(g, gRedR, gRedV, x, y, BALL_R, 'url(#ballRed)', 'pore-point-nps');
  curve(g, straight(tp), TEAL, 2.8, 'pore-line-precursor');
  balls(g, gTealR, gTealV, x, y, BALL_R, 'url(#ballTeal)', 'pore-point-precursor');
  mk('line', {x1: 667, x2: 719, y1: 1190, y2: 1190, stroke: RED, 'stroke-width': 2.6}, g, 'legend-line-nps');
  mk('circle', {cx: 693, cy: 1190, r: BALL_R, fill: 'url(#ballRed)'}, g, 'legend-marker-nps');
  mk('line', {x1: 667, x2: 719, y1: 1218, y2: 1218, stroke: TEAL, 'stroke-width': 2.6}, g, 'legend-line-precursor');
  mk('circle', {cx: 693, cy: 1218, r: BALL_R, fill: 'url(#ballTeal)'}, g, 'legend-marker-precursor');
  const ax = byId('g-axis');
  xAxis(ax, x, gXTickMajor, gXTickMinor, 1447, 1476.6, null, 'panel-g');
  yAxis(ax, y, gYTickMajor, gYTickMinor, 641, v => v.toFixed(4), 'panel-g');
})();
</script>
</svg>
</body>
</html>
